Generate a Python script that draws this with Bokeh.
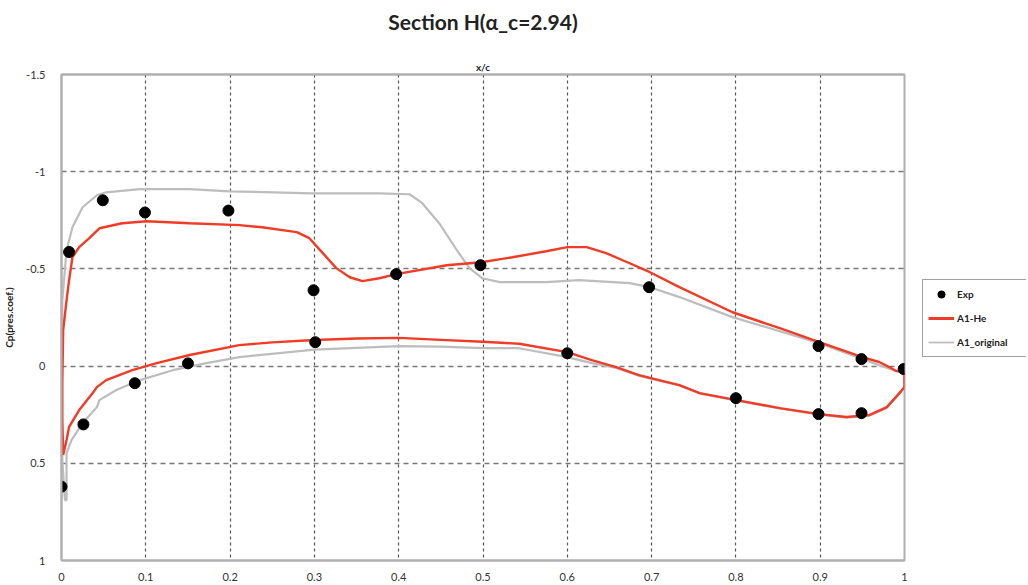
from bokeh.plotting import figure
from bokeh.models import (Range1d, FixedTicker, LinearAxis, Legend, LegendItem)
from bokeh.layouts import row
from bokeh.embed import file_html
from bokeh.resources import INLINE

# ---- data ----
exp_x = [0.0, 0.009, 0.049, 0.099, 0.198, 0.299, 0.301, 0.397, 0.497, 0.600,
         0.697, 0.800, 0.898, 0.898, 0.949, 0.949, 0.999, 0.026, 0.087, 0.150]
exp_cp = [0.62, -0.587, -0.853, -0.79, -0.80, -0.39, -0.123, -0.473, -0.519, -0.066,
          -0.406, 0.165, -0.103, 0.247, -0.036, 0.242, 0.015, 0.30, 0.088, -0.014]

he_x = [1.0, 0.99, 0.982, 0.970, 0.950, 0.899, 0.852, 0.796, 0.733, 0.698, 0.674, 0.646,
        0.623, 0.600, 0.575, 0.535, 0.498, 0.457, 0.397, 0.377, 0.357, 0.342, 0.326,
        0.310, 0.294, 0.279, 0.238, 0.211, 0.152, 0.101, 0.072, 0.045, 0.033, 0.021,
        0.013, 0.009, 0.006, 0.002, 0.001, 0.001, 0.002,
        0.006, 0.009, 0.021, 0.037, 0.042, 0.053, 0.084, 0.113, 0.152, 0.211, 0.250,
        0.300, 0.350, 0.400, 0.450, 0.500, 0.543, 0.600, 0.629, 0.658, 0.685, 0.733,
        0.757, 0.801, 0.852, 0.899, 0.931, 0.958, 0.979, 0.994, 1.0, 1.0]
he_cp = [0.03, 0.025, 0.005, -0.021, -0.046, -0.123, -0.195, -0.277, -0.406, -0.483,
         -0.529, -0.581, -0.612, -0.612, -0.591, -0.560, -0.534, -0.519, -0.473, -0.452,
         -0.437, -0.457, -0.504, -0.581, -0.658, -0.689, -0.714, -0.725, -0.735, -0.745,
         -0.735, -0.709, -0.658, -0.612, -0.560, -0.442, -0.339, -0.185, 0.072, 0.277, 0.457,
         0.38, 0.313, 0.226, 0.139, 0.108, 0.072, 0.021, -0.015, -0.057, -0.108, -0.122,
         -0.134, -0.142, -0.145, -0.135, -0.125, -0.115, -0.072, -0.031, 0.005, 0.046,
         0.098, 0.139, 0.175, 0.216, 0.247, 0.262, 0.252, 0.211, 0.139, 0.108, 0.03]

orig_x = [1.0, 0.99, 0.970, 0.899, 0.796, 0.733, 0.698, 0.674, 0.614, 0.575, 0.520,
          0.499, 0.484, 0.469, 0.448, 0.428, 0.413, 0.377, 0.298, 0.199, 0.152, 0.093,
          0.053, 0.042, 0.025, 0.013, 0.006, 0.001, 0.0, 0.001, 0.004, 0.006,
          0.006, 0.012, 0.025, 0.042, 0.045, 0.065, 0.093, 0.132, 0.172, 0.211, 0.300,
          0.400, 0.450, 0.500, 0.543, 0.600, 0.629, 0.658, 0.685, 0.733, 0.757, 0.801,
          0.852, 0.899, 0.931, 0.958, 0.979, 0.994, 1.0, 1.0]
orig_cp = [0.03, 0.025, -0.005, -0.118, -0.252, -0.355, -0.406, -0.427, -0.442, -0.432,
           -0.432, -0.452, -0.504, -0.596, -0.735, -0.838, -0.884, -0.889, -0.889, -0.899,
           -0.910, -0.910, -0.894, -0.879, -0.817, -0.714, -0.596, -0.339, 0.175, 0.483,
           0.689, 0.689,
           0.447, 0.38, 0.293, 0.211, 0.175, 0.123, 0.072, 0.021, -0.015, -0.046, -0.085,
           -0.103, -0.100, -0.092, -0.092, -0.046, -0.015, 0.01, 0.05, 0.10, 0.14, 0.178,
           0.218, 0.25, 0.265, 0.255, 0.215, 0.14, 0.11, 0.03]

x_ticks = [0.0, 0.1, 0.2, 0.3, 0.4, 0.5, 0.6, 0.7, 0.8, 0.9, 1.0]
x_tick_labels = ["0", "0.1", "0.2", "0.3", "0.4", "0.5", "0.6", "0.7", "0.8", "0.9", "1"]
y_ticks = [-1.5, -1.0, -0.5, 0.0, 0.5, 1.0]
y_tick_labels = ["-1.5", "-1", "-0.5", "0", "0.5", "1"]
legend_labels = ["Exp", "A1-He", "A1_original"]
title_text = "Section H(α_c=2.94)"

FONT = "Lato"
RED = "#f03c26"
GREY = "#bdbdbd"

p = figure(frame_width=843, frame_height=486, output_backend="svg", toolbar_location=None,
           x_range=Range1d(0, 1), y_range=Range1d(1, -1.5),
           min_border_left=54, min_border_right=10, min_border_top=74, min_border_bottom=18)

p.outline_line_color = "#b0b0b0"
p.outline_line_width = 2

for ax in (p.xaxis[0], p.yaxis[0]):
    ax.axis_line_color = "#b0b0b0"
    ax.axis_line_width = 2
    ax.major_tick_line_color = None
    ax.minor_tick_line_color = None
    ax.major_label_text_font = FONT
    ax.major_label_text_font_size = "11px"
    ax.major_label_text_color = "#333333"

p.xaxis.ticker = FixedTicker(ticks=x_ticks)
p.xaxis.major_label_overrides = {t: l for t, l in zip(x_ticks, x_tick_labels)}
p.xaxis.major_label_standoff = 6
p.yaxis.ticker = FixedTicker(ticks=y_ticks)
p.yaxis.major_label_overrides = {t: l for t, l in zip(y_ticks, y_tick_labels)}
p.yaxis.major_label_standoff = 10
p.yaxis.axis_label = "Cp(pres.coef.)"
p.yaxis.axis_label_text_font = FONT
p.yaxis.axis_label_text_font_size = "10px"
p.yaxis.axis_label_text_font_style = "bold"
p.yaxis.axis_label_text_color = "#222222"
p.yaxis.axis_label_standoff = 8

top_ax = LinearAxis(axis_label="x/c", ticker=FixedTicker(ticks=[]),
                    major_label_text_font_size="0px",
                    major_tick_line_color=None, minor_tick_line_color=None,
                    axis_line_color="#b0b0b0", axis_line_width=2,
                    axis_label_text_font=FONT, axis_label_text_font_size="10px",
                    axis_label_text_font_style="bold", axis_label_text_color="#222222",
                    axis_label_standoff=2)
p.add_layout(top_ax, "above")

title_ax = LinearAxis(axis_label=title_text, ticker=FixedTicker(ticks=[]),
                      major_label_text_font_size="0px",
                      major_tick_line_color=None, minor_tick_line_color=None,
                      axis_line_color=None,
                      axis_label_text_font=FONT, axis_label_text_font_size="21px",
                      axis_label_text_font_style="bold", axis_label_text_color="#222222",
                      axis_label_standoff=24)
p.add_layout(title_ax, "above")

p.xgrid.ticker = FixedTicker(ticks=x_ticks)
p.xgrid.grid_line_color = "#555555"
p.xgrid.grid_line_dash = "3 3"
p.xgrid.grid_line_width = 1.2
p.ygrid.ticker = FixedTicker(ticks=y_ticks)
p.ygrid.grid_line_color = "#777777"
p.ygrid.grid_line_dash = "5 4"
p.ygrid.grid_line_width = 1.5

p.line(orig_x, orig_cp, line_color=GREY, line_width=2.2)
p.line(he_x, he_cp, line_color=RED, line_width=2.4)
p.scatter(exp_x, exp_cp, size=11, fill_color="black", line_color="black")

# legend in a small side figure; its renderers hold the same data but lie outside its view
p2 = figure(width=112, height=400, output_backend="svg", toolbar_location=None,
            x_axis_location=None, y_axis_location=None,
            min_border_left=0, min_border_right=0, min_border_top=0, min_border_bottom=0,
            x_range=Range1d(10, 11), y_range=Range1d(10, 11))
p2.outline_line_color = None
p2.grid.visible = False
l_exp = p2.scatter(exp_x, exp_cp, size=10, fill_color="black", line_color="black")
l_he = p2.line(he_x, he_cp, line_color=RED, line_width=3)
l_orig = p2.line(orig_x, orig_cp, line_color=GREY, line_width=1.8)

legend = Legend(items=[LegendItem(label=legend_labels[0], renderers=[l_exp]),
                       LegendItem(label=legend_labels[1], renderers=[l_he]),
                       LegendItem(label=legend_labels[2], renderers=[l_orig])],
                location=(8, 20))
legend.border_line_color = "#444444"
legend.border_line_width = 1.5
legend.label_text_font = FONT
legend.label_text_font_size = "10px"
legend.label_text_font_style = "bold"
legend.label_text_color = "#222222"
legend.glyph_width = 26
legend.glyph_height = 18
legend.spacing = 6
legend.padding = 5
legend.margin = 0
legend.label_standoff = 3
legend.label_width = 66
p2.add_layout(legend)

layout = row(p, p2)
open("out.html", "w").write(file_html(layout, INLINE))
